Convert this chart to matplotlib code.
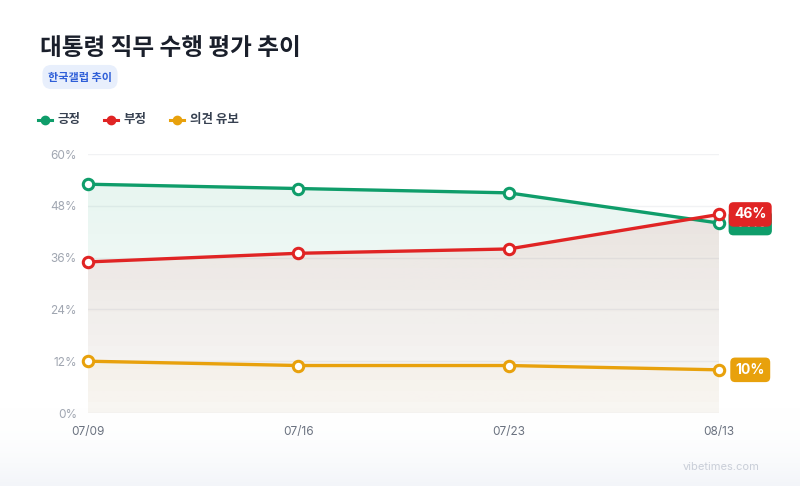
import numpy as np
import matplotlib
matplotlib.use("Agg")
import matplotlib.pyplot as plt
from matplotlib.colors import to_rgb

plt.rcParams['font.family'] = ['Noto Sans CJK KR', 'DejaVu Sans']

dates = ["07/09", "07/16", "07/23", "08/13"]
positive = [53, 52, 51, 44]
negative = [35, 37, 38, 46]
undecided = [12, 11, 11, 10]
series_names = ["긍정", "부정", "의견 유보"]
y_ticks = [0, 12, 24, 36, 48, 60]

colors = ["#0f9d6a", "#e02424", "#e8a10c"]
series = [positive, negative, undecided]

fig = plt.figure(figsize=(8, 4.86), dpi=100)
fig.patch.set_facecolor("white")

# bottom background gradient
bg = fig.add_axes([0, 0, 1, 1], zorder=-10)
bg.set_xlim(0, 1); bg.set_ylim(0, 1); bg.axis("off")
grad = np.ones((100, 1, 4))
top_c = np.array(to_rgb("#ffffff")); bot_c = np.array(to_rgb("#f3f5f9"))
for i in range(100):
    s = i / 99
    t = 1 - (1 - s) ** 2
    grad[i, 0, :3] = bot_c * (1 - t) + top_c * t
bg.imshow(grad, extent=[0, 1, 0, 0.16], origin="lower", aspect="auto")

ax = fig.add_axes([88/800, 1-413/486, (719-88)/800, (413-154)/486])
x = np.arange(len(dates))
ax.set_xlim(0, len(dates)-1)
ax.set_ylim(0, 60)

for yt in y_ticks:
    ax.axhline(yt, color="#f1f2f4", lw=1, zorder=0)

# gradient fills
for vals, c in zip(series, colors):
    poly = ax.fill_between(x, vals, 0, color="none", lw=0)
    rgb = np.array(to_rgb(c))
    img = np.zeros((200, 1, 4))
    img[:, 0, :3] = rgb
    img[:, 0, 3] = np.linspace(0.02, 0.11, 200)
    im = ax.imshow(img, extent=[0, len(dates)-1, 0, 60], origin="lower",
                   aspect="auto", zorder=1)
    im.set_clip_path(poly.get_paths()[0], transform=ax.transData)

for vals, c in zip(series, colors):
    ax.plot(x, vals, color=c, lw=2.4, zorder=3, solid_capstyle="round")
    ax.plot(x, vals, ls="none", marker="o", ms=7.5, mfc="white", mec=c,
            mew=2.2, zorder=4, clip_on=False)

ax.set_xticks(x)
ax.set_xticklabels(dates, family=["Inter", "DejaVu Sans"])
ax.set_yticks(y_ticks)
ax.set_yticklabels([f"{v}%" for v in y_ticks], family=["Inter", "DejaVu Sans"])
ax.tick_params(axis="both", length=0, labelsize=8.5)
ax.tick_params(axis="y", colors="#a0a6b1", pad=8)
ax.tick_params(axis="x", colors="#6b7280", pad=9)
for s in ax.spines.values():
    s.set_visible(False)
ax.set_facecolor("none")

# end-value labels
def value_box(val, c, z):
    ax.annotate(f"{val}%", xy=(len(dates)-1, val), xytext=(22.5, 0),
                textcoords="offset points", ha="center", va="center",
                fontsize=10, fontweight="bold", color="white",
                family=["Inter", "DejaVu Sans"], zorder=z, annotation_clip=False,
                bbox=dict(boxstyle="round,pad=0.38,rounding_size=0.35",
                          fc=c, ec="none"))

value_box(positive[-1], colors[0], 5)
value_box(negative[-1], colors[1], 6)
value_box(undecided[-1], colors[2], 6)

# title, badge
fig.text(40/800, 1-48/486, "대통령 직무 수행 평가 추이", fontsize=17,
         fontweight="bold", color="#1a1f2b", va="center", ha="left")
fig.text(48/800, 1-77/486, "한국갤럽 추이", fontsize=8, fontweight="bold",
         color="#2f5fd8", va="center", ha="left",
         bbox=dict(boxstyle="round,pad=0.5,rounding_size=0.8", fc="#e8effc", ec="none"))

# legend
lx = [38, 104, 170]
for name, c, px in zip(series_names, colors, lx):
    fig.lines.append(plt.Line2D([px/800, (px+14)/800], [1-120/486]*2, color=c, lw=2.2,
                                transform=fig.transFigure))
    fig.lines.append(plt.Line2D([(px+7)/800], [1-120/486], marker="o", ms=6, color=c,
                                transform=fig.transFigure))
    fig.text((px+20)/800, 1-120/486, name, fontsize=9, fontweight="bold",
             color="#374151", va="center", ha="left")

fig.text(760/800, 1-467/486, "vibetimes.com", fontsize=8, color="#c9ced8",
         ha="right", va="center", family=["Inter", "DejaVu Sans"])

fig.savefig("out.png", dpi=100)
